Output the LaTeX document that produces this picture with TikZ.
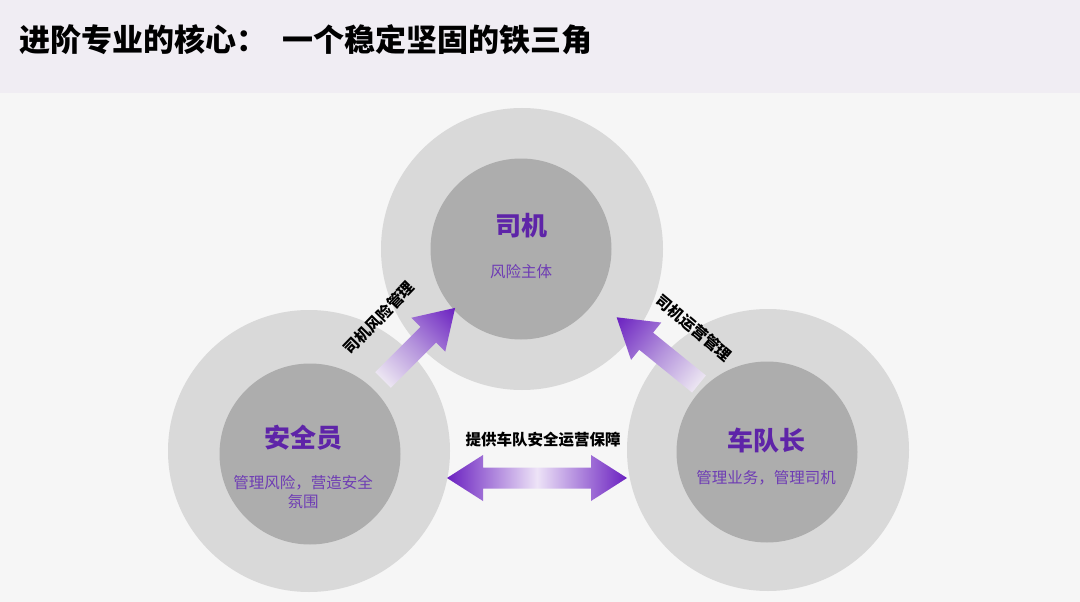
\documentclass[tikz,border=0pt]{standalone}
\usepackage{fontspec}
\newfontfamily\cjk{Noto Sans CJK SC}
\definecolor{bgcol}{HTML}{F6F6F6}
\definecolor{bandcol}{HTML}{F0EDF3}
\definecolor{outercol}{HTML}{D9D9D9}
\definecolor{innercol}{HTML}{ADADAD}
\definecolor{headcol}{HTML}{5E24A8}
\definecolor{subcol}{HTML}{6E3CB4}
\definecolor{arrowdark}{HTML}{6A20C0}
\definecolor{arrowmid}{HTML}{B493DC}
\definecolor{arrowtail}{HTML}{ECE6F2}
\definecolor{arrowlight}{HTML}{EDE3F7}
\pgfdeclarehorizontalshading{arrowfade}{100bp}{color(0bp)=(arrowtail); color(25bp)=(arrowtail); color(48bp)=(arrowmid); color(75bp)=(arrowdark); color(100bp)=(arrowdark)}
\pgfdeclarehorizontalshading{doublefade}{100bp}{color(0bp)=(arrowdark); color(25bp)=(arrowdark); color(50bp)=(arrowlight); color(75bp)=(arrowdark); color(100bp)=(arrowdark)}
\newcommand{\blockarrow}[1]{(0,-11) -- (#1-38,-11) -- (#1-38,-24) -- (#1,0) -- (#1-38,24) -- (#1-38,11) -- (0,11) -- cycle}
\tikzset{
  outerc/.style={circle, fill=outercol, minimum size=282pt, inner sep=0pt},
  innerc/.style={circle, fill=innercol, minimum size=181pt, inner sep=0pt},
  headtxt/.style={text=headcol, font=\cjk\bfseries\fontsize{26}{30}\selectfont},
  subtxt/.style={text=subcol, font=\cjk\fontsize{15.5}{19}\selectfont, align=center},
  lbl/.style={text=black, font=\cjk\bfseries\fontsize{15.5}{18}\selectfont, inner sep=0pt},
}
\begin{document}
\begin{tikzpicture}[x=1pt,y=-1pt]
\useasboundingbox (0,0) rectangle (1080,602);
\fill[bgcol] (0,0) rectangle (1080,602);
\fill[bandcol] (0,0) rectangle (1080,93);
\node[anchor=west, inner sep=0pt, font=\cjk\bfseries\fontsize{31}{34}\selectfont] (title) at (19,40) {进阶专业的核心：\hspace{15pt}一个稳定坚固的铁三角};

% circles
\node[outerc] (drvO) at (522,249) {};
\node[innerc] (drv) at (521,249) {};
\node[outerc] (safO) at (309,451) {};
\node[innerc] (saf) at (310,454) {};
\node[outerc] (ldrO) at (768,450) {};
\node[innerc] (ldr) at (767,452) {};

% texts
\node[headtxt] (drvT) at (521,226) {司机};
\node[subtxt] (drvS) at (521,272) {风险主体};
\node[headtxt] (safT) at (303,438) {安全员};
\node[subtxt] (safS) at (303,492) {管理风险，营造安全\\氛围};
\node[headtxt] (ldrT) at (766,440) {车队长};
\node[subtxt] (ldrS) at (766,478) {管理业务，管理司机};

% arrows
\begin{scope}[transform canvas={shift={(383,380)}, rotate=45}]
  \shade[shading=arrowfade] \blockarrow{102};
\end{scope}
\begin{scope}[transform canvas={shift={(699,384)}, rotate=141}]
  \shade[shading=arrowfade] \blockarrow{106};
\end{scope}
\shade[shading=doublefade] (447,478) -- (483,455) -- (483,467.5) -- (591,467.5) -- (591,455) -- (627,478) -- (591,501) -- (591,488.5) -- (483,488.5) -- (483,501) -- cycle;

% arrow labels
\node[lbl, rotate=46] (l1) at (379,318) {司机风险管理};
\node[lbl, rotate=-40] (l2) at (694,328) {司机运营管理};
\node[lbl] (l3) at (543,440) {提供车队安全运营保障};
\end{tikzpicture}
\end{document}
